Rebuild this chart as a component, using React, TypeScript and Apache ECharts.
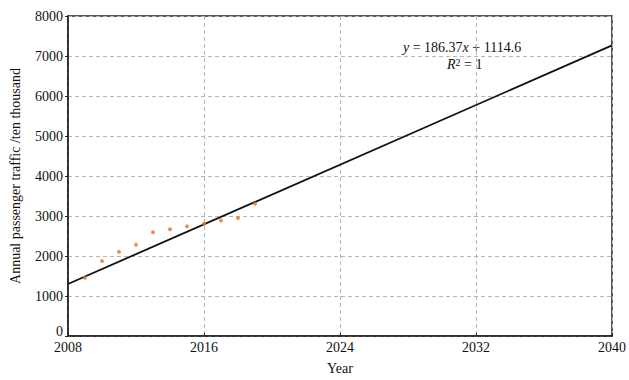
import React, { useEffect, useRef } from "react";
import * as echarts from "echarts";

// Observed annual passenger traffic (ten thousand)
const years = [2009, 2010, 2011, 2012, 2013, 2014, 2015, 2016, 2017, 2018, 2019];
const traffic = [1455, 1872, 2103, 2282, 2594, 2667, 2741, 2805, 2888, 2952, 3305];

// Linear fit: y = slope * x + intercept, where x = year - 2007
const slope = 186.37;
const intercept = 1114.6;
const fitYears = [2008, 2040];

const xTicks = [2008, 2016, 2024, 2032, 2040];

const FONT = "Liberation Serif";

export default function App() {
  const ref = useRef<HTMLDivElement>(null);

  useEffect(() => {
    if (!ref.current) return;
    const chart = echarts.init(ref.current, undefined, { renderer: "svg" });
    const fitLine = fitYears.map((yr) => [yr, slope * (yr - 2007) + intercept]);

    chart.setOption({
      animation: false,
      backgroundColor: "#fff",
      grid: {
        left: 67,
        right: 17,
        top: 16,
        bottom: 38,
        show: true,
        borderColor: "#222",
        borderWidth: 1.5,
      },
      xAxis: {
        type: "value",
        min: 2008,
        max: 2040,
        interval: 8,
        name: "Year",
        nameLocation: "middle",
        nameGap: 25,
        nameTextStyle: { fontFamily: FONT, fontSize: 14, color: "#111" },
        axisLine: { show: true, lineStyle: { color: "#222", width: 1.5 } },
        axisTick: { show: true, inside: true, length: 3, lineStyle: { color: "#222" } },
        axisLabel: {
          fontFamily: FONT,
          fontSize: 14,
          color: "#111",
          margin: 4,
          formatter: (v: number) => (xTicks.includes(v) ? String(v) : ""),
        },
        splitLine: { show: true, lineStyle: { color: "#b5b5b5", type: [4, 3], width: 1 } },
      },
      yAxis: {
        type: "value",
        min: 0,
        max: 8000,
        interval: 1000,
        name: "Annual passenger traffic /ten thousand",
        nameLocation: "middle",
        nameGap: 46,
        nameTextStyle: { fontFamily: FONT, fontSize: 14, color: "#111" },
        axisLine: { show: true, lineStyle: { color: "#222", width: 1.5 } },
        axisTick: { show: true, inside: false, length: 3, lineStyle: { color: "#222" } },
        axisLabel: {
          fontFamily: FONT,
          fontSize: 14,
          color: "#111",
          margin: 5,
          // lift the zero label a little so it clears the first year label
          formatter: (v: number) => (v === 0 ? "{z|0}" : String(v)),
          rich: { z: { fontFamily: FONT, fontSize: 14, color: "#111", padding: [0, 0, 9, 0] } },
        },
        splitLine: { show: true, lineStyle: { color: "#b5b5b5", type: [4, 3], width: 1 } },
      },
      series: [
        {
          type: "line",
          data: fitLine,
          symbol: "none",
          lineStyle: { color: "#111", width: 1.8 },
          z: 3,
        },
        {
          type: "scatter",
          data: years.map((y, i) => [y, traffic[i]]),
          symbol: "circle",
          symbolSize: 4,
          itemStyle: { color: "#e8731e" },
          z: 4,
        },
      ],
      graphic: [
        {
          type: "text",
          left: 403,
          top: 40,
          style: {
            text: "{i|y} = 186.37{i|x} + 1114.6",
            fontFamily: FONT,
            fontSize: 14,
            fill: "#111",
            rich: {
              i: { fontFamily: FONT, fontStyle: "italic", fontSize: 14, fill: "#111" },
            },
          },
        },
        {
          type: "text",
          left: 447,
          top: 57,
          style: {
            text: "{i|R}{s|2} = 1",
            fontFamily: FONT,
            fontSize: 14,
            fill: "#111",
            rich: {
              i: { fontFamily: FONT, fontStyle: "italic", fontSize: 14, fill: "#111" },
              s: { fontFamily: FONT, fontSize: 10, fill: "#111", verticalAlign: "top", padding: [0, 0, 5, 0] },
            },
          },
        },
      ],
    });
    return () => chart.dispose();
  }, []);

  return (
    <div
      ref={ref}
      style={{ position: "fixed", left: 0, top: 0, width: 629, height: 380 }}
    />
  );
}
